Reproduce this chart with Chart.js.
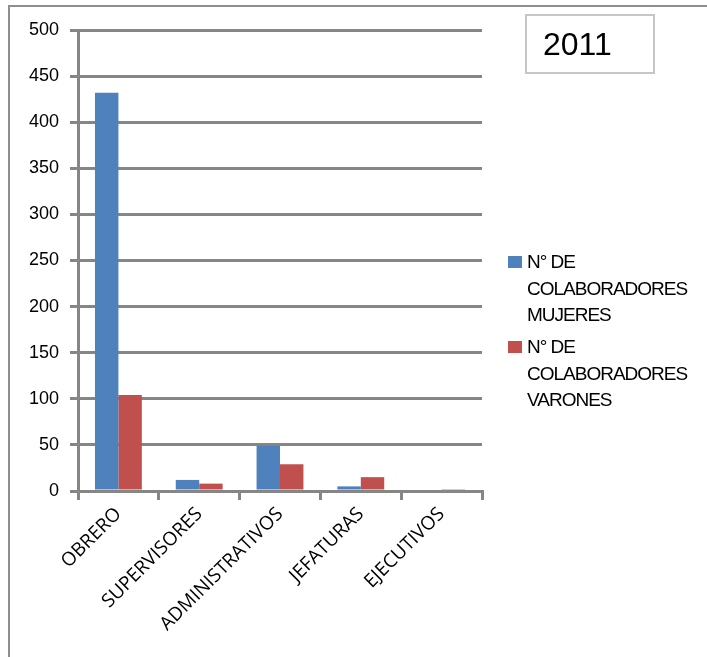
<!DOCTYPE html>
<html>
<head>
<meta charset="utf-8">
<script src="https://cdn.jsdelivr.net/npm/chart.js@4.4.1/dist/chart.umd.min.js"></script>
<style>
  body { margin: 0; background: #fff; overflow: hidden; }
  #wrap { position: relative; width: 707px; height: 657px; overflow: hidden; }
  #frame { position: absolute; left: 8px; top: 5px; width: 760px; height: 760px; border: 2px solid #8e8e8e; }
  #year { position: absolute; left: 525px; top: 14px; border: 2px solid #c6c6c6;
          font: 32px "Liberation Sans", Arial, sans-serif; color: #000; line-height: 56px; padding-left: 16px; box-sizing: border-box; width: 130px; height: 60px; }
  #chartOut { position: absolute; left: 0; top: 0; }
</style>
</head>
<body>
<div id="wrap">
  <div id="frame"></div>
  <canvas id="chartOut" width="707" height="657"></canvas>
  <div id="year">2011</div>
</div>
<script>
var categories = ['OBRERO', 'SUPERVISORES', 'ADMINISTRATIVOS', 'JEFATURAS', 'EJECUTIVOS'];
var mujeres = [432, 12, 49, 5, 0];
var varones = [104, 8, 29, 15, 2];
var seriesNames = ['N° DE COLABORADORES MUJERES', 'N° DE COLABORADORES VARONES'];
var legendLines = [['N° DE', 'COLABORADORES', 'MUJERES'], ['N° DE', 'COLABORADORES', 'VARONES']];
var yTicks = [0, 50, 100, 150, 200, 250, 300, 350, 400, 450, 500];

var gridColor = '#868686';

// legend drawn by hand, Excel style with wrapped lines
var sideLegend = {
  id: 'sideLegend',
  afterDraw: function(chart) {
    var ctx = chart.ctx;
    ctx.save();
    ctx.font = '19px "Liberation Sans", Arial, sans-serif';
    ctx.letterSpacing = '-1px';
    ctx.textBaseline = 'alphabetic';
    var y0 = 268;
    chart.data.datasets.forEach(function(ds, i) {
      var top = y0 + i * 85;
      ctx.fillStyle = ds.backgroundColor;
      ctx.fillRect(508, top - 12, 14, 12);
      ctx.fillStyle = '#000';
      legendLines[i].forEach(function(line, j) {
        ctx.fillText(line, 527, top + j * 26.5);
      });
    });
    ctx.restore();
  }
};

var ctx = document.getElementById('chartOut').getContext('2d');
window.myBar = new Chart(ctx, {
  type: 'bar',
  data: {
    labels: categories,
    datasets: [{
      label: seriesNames[0],
      data: mujeres,
      backgroundColor: '#4F81BD',
      categoryPercentage: 0.58,
      barPercentage: 1
    }, {
      label: seriesNames[1],
      data: varones,
      backgroundColor: '#C0504D',
      categoryPercentage: 0.58,
      barPercentage: 1
    }]
  },
  options: {
    responsive: false,
    animation: false,
    layout: { padding: { left: 0, top: 30, right: 225, bottom: 0 } },
    plugins: {
      legend: { display: false },
      tooltip: { enabled: false }
    },
    scales: {
      x: {
        afterFit: function(scale) { scale.height = 166; },
        grid: { drawOnChartArea: false, offset: true, color: gridColor, lineWidth: 3, tickLength: 9 },
        border: { color: gridColor, width: 3 },
        ticks: {
          color: '#000',
          font: { family: '"Open Sans", sans-serif', size: 19 },
          minRotation: 45,
          maxRotation: 45,
          padding: 3,
          autoSkip: false
        }
      },
      y: {
        min: 0,
        max: 500,
        afterFit: function(scale) { scale.width = 78; },
        afterBuildTicks: function(scale) {
          scale.ticks = yTicks.map(function(v) { return { value: v }; });
        },
        grid: { color: gridColor, lineWidth: 3, tickLength: 8 },
        border: { color: gridColor, width: 3 },
        ticks: {
          color: '#000',
          font: { family: '"Liberation Sans", Arial, sans-serif', size: 18 },
          padding: 11
        }
      }
    }
  },
  plugins: [sideLegend]
});
</script>
</body>
</html>
